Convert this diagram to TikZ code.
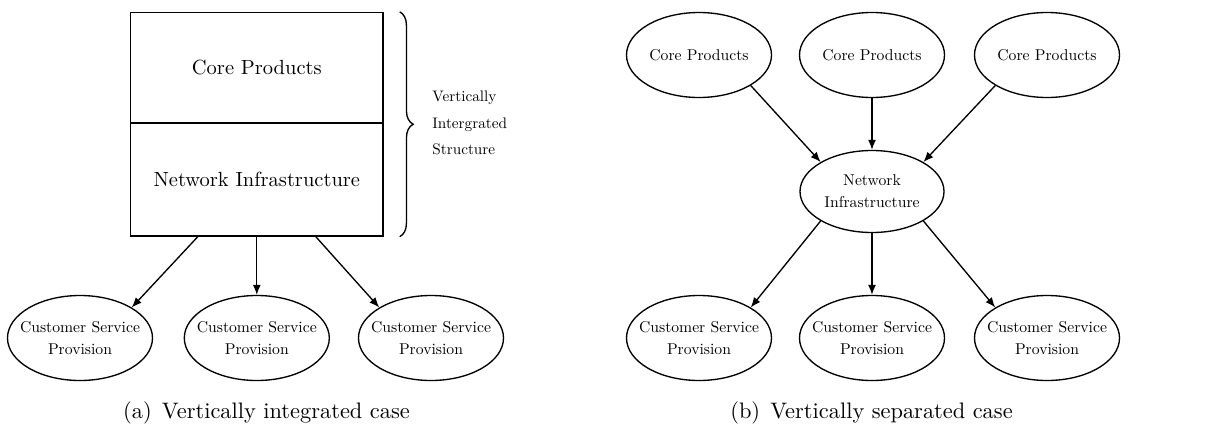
\documentclass[tikz,border=0pt]{standalone}
\usepackage{fontspec}
\newfontfamily\lmten{lmroman10-regular}[Extension=.otf]
\usetikzlibrary{shapes.geometric,decorations.pathreplacing,calc,arrows.meta}
\begin{document}
\begin{tikzpicture}[x=0.4464pt,y=-0.4464pt,
  cell/.style={draw, line width=0.6pt, minimum width={252.5*0.4464pt}, inner sep=0pt,
    font=\lmten\fontsize{9.15}{11}\selectfont},
  oval/.style={draw, ellipse, line width=0.6pt, minimum width={145*0.4464pt},
    minimum height={85*0.4464pt}, inner sep=0pt},
  lbl/.style={font=\lmten\fontsize{7}{9.8}\selectfont, align=center},
  conn/.style={line width=0.6pt, -{Latex[length=4.5pt,width=3.6pt]}},
  captiontext/.style={font=\fontsize{10}{12}\selectfont}]
\useasboundingbox (0,0) rectangle (1206,427);

% (a) vertically integrated structure
\node[cell, minimum height={110*0.4464pt}] (core) at (256.8,67.5) {Core Products};
\node[cell, minimum height={113*0.4464pt}] (net) at (256.8,179.5) {Network Infrastructure};
\draw[decorate, decoration={brace, amplitude=6pt}, line width=0.6pt]
  ($(core.north east)+(16,0)$) -- ($(net.south east)+(16,0)$);
\node[lbl, align=left, anchor=west, inner sep=0pt, font=\lmten\fontsize{6.8}{11.8}\selectfont]
  (vis) at (432,123) {Vertically\\Intergrated\\Structure};

\node[oval, label={[lbl]center:Customer Service\\Provision}] (csA) at (80,338) {};
\node[oval, label={[lbl]center:Customer Service\\Provision}] (csB) at (256.8,338) {};
\node[oval, label={[lbl]center:Customer Service\\Provision}] (csC) at (431,338) {};

\draw[conn] ($(net.south)+(-59,0)$) -- (csA.north east);
\draw[conn] (net.south) -- (csB.north);
\draw[conn] ($(net.south)+(59,0)$) -- (csC.north west);

\node[captiontext] (capA) at (266.5,413) {(a)\hspace{4.5pt}Vertically integrated case};

% (b) vertically separated structure
\node[oval, label={[lbl]center:Core Products}] (cp1) at (699,55) {};
\node[oval, label={[lbl]center:Core Products}] (cp2) at (872,55) {};
\node[oval, label={[lbl]center:Core Products}] (cp3) at (1047,55) {};
\node[oval, minimum width={144*0.4464pt}, minimum height={82*0.4464pt},
  label={[lbl]center:Network\\Infrastructure}] (ni) at (872,191.5) {};
\node[oval, label={[lbl]center:Customer Service\\Provision}] (cs1) at (699,338) {};
\node[oval, label={[lbl]center:Customer Service\\Provision}] (cs2) at (872,338) {};
\node[oval, label={[lbl]center:Customer Service\\Provision}] (cs3) at (1047,338) {};

\draw[conn] (cp1.south east) -- (ni.north west);
\draw[conn] (cp2.south) -- (ni.north);
\draw[conn] (cp3.south west) -- (ni.north east);
\draw[conn] (ni.south west) -- (cs1.north east);
\draw[conn] (ni.south) -- (cs2.north);
\draw[conn] (ni.south east) -- (cs3.north west);

\node[captiontext] (capB) at (871.5,413) {(b)\hspace{4.5pt}Vertically separated case};
\end{tikzpicture}
\end{document}
